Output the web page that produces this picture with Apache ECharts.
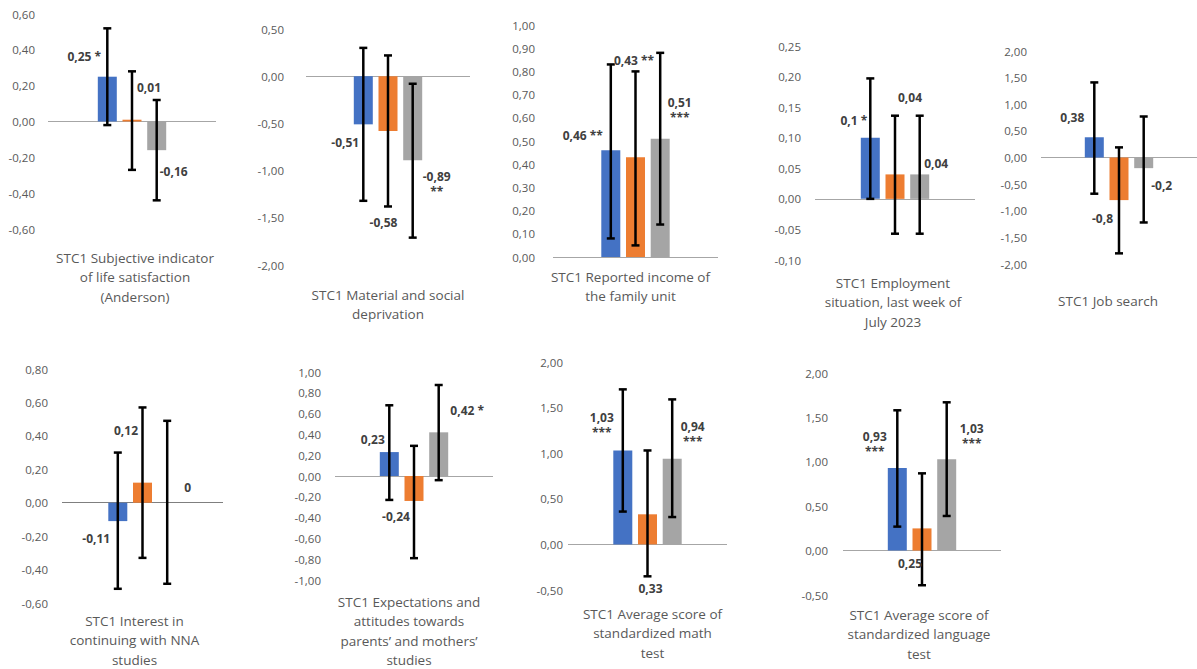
<!DOCTYPE html>
<html><head><meta charset="utf-8">
<script src="https://cdn.jsdelivr.net/npm/echarts@6/dist/echarts.min.js"></script>
<style>html,body{margin:0;padding:0;background:#fff}#c{width:1197px;height:669px}</style>
</head><body><div id="c"></div>
<script>
// ---------- DATA ----------
const categories = [
  'STC1 Subjective indicator\nof life satisfaction\n(Anderson)',
  'STC1 Material and social\ndeprivation',
  'STC1 Reported income of\nthe family unit',
  'STC1 Employment\nsituation, last week of\nJuly 2023',
  'STC1 Job search',
  'STC1 Interest in\ncontinuing with NNA\nstudies',
  'STC1 Expectations and\nattitudes towards\nparents\u2019 and mothers\u2019\nstudies',
  'STC1 Average score of\nstandardized math\ntest',
  'STC1 Average score of\nstandardized language\ntest'
];
const blueValues   = [0.25, -0.51, 0.46, 0.1, 0.38, -0.11, 0.23, 1.03, 0.93];
const orangeValues = [0.01, -0.58, 0.43, 0.04, -0.8, 0.12, -0.24, 0.33, 0.25];
const grayValues   = [-0.16, -0.89, 0.51, 0.04, -0.2, 0, 0.42, 0.94, 1.03];
const blueStars    = ['*', '', '**', '*', '', '', '', '***', '***'];
const orangeStars  = ['', '', '**', '', '', '', '', '', ''];
const grayStars    = ['', '**', '***', '', '', '', '*', '***', '***'];
const blueLow      = [-0.02, -1.32, 0.08, 0.00, -0.68, -0.515, -0.23, 0.36, 0.27];
const blueHigh     = [0.52, 0.30, 0.83, 0.197, 1.41, 0.30, 0.68, 1.70, 1.58];
const orangeLow    = [-0.27, -1.38, 0.05, -0.057, -1.80, -0.33, -0.79, -0.35, -0.39];
const orangeHigh   = [0.28, 0.22, 0.80, 0.136, 0.19, 0.57, 0.29, 1.03, 0.87];
const grayLow      = [-0.44, -1.71, 0.14, -0.057, -1.22, -0.485, -0.04, 0.30, 0.39];
const grayHigh     = [0.12, -0.08, 0.88, 0.136, 0.77, 0.49, 0.875, 1.59, 1.67];
const axisMin      = [-0.6, -2, 0, -0.1, -2, -0.6, -1, -0.5, -0.5];
const axisMax      = [0.6, 0.5, 1, 0.25, 2, 0.8, 1, 2, 2];
const axisStep     = [0.2, 0.5, 0.1, 0.05, 0.5, 0.2, 0.2, 0.5, 0.5];

// ---------- LAYOUT / STYLE ----------
const COLORS = ['#4472C4', '#ED7D31', '#A5A5A5'];
const BAR_W = 19, BAR_GAP = 0.3;
const GRIDS = [[48,14,168,215],[306,29,164,236],[553,25,165,232],[815,46,160,214],[1041,51,156,213],
               [62,369,161,234],[335,372,158,208],[568,362,159,228],[843,373,158,222]];
const Y_MARGIN = [13,22,18,14,14,14,14,5,15];
const X_MARGIN = [19,20,10,13,27,8,12,14,10];
const TITLE_SHIFT = [3,0,-5,-2,-11,-8,-5,5,-3];
const ZERO_COLOR = ['#A6A6A6','#A6A6A6','#A6A6A6','#A6A6A6','#A6A6A6','#7F7F7F','#A6A6A6','#A6A6A6','#A6A6A6'];
// label centre offsets [dx, dy, starsOnNewLine] relative to bar top (per panel: blue, orange, gray)
const LABEL_POS = [
  [[-23,-20,0],[17,-32,0],[17,21,0]],
  [[-18,18,0],[-4.5,92,0],[24,24,1]],
  [[-28,-15,0],[-1.5,-97,0],[19.5,-29,1]],
  [[-16.5,-17,0],[15,-77,0],[16.5,-11,0]],
  [[-22,-20,0],[-16.5,18,0],[18,17,0]],
  [[-21.5,17,0],[-16.5,-52,0],[20.5,-15,0]],
  [[-16.5,-13,0],[-18,16,0],[28.5,-22,0]],
  [[-21,-25,1],[3,74,0],[20.5,-25,1]],
  [[-22.5,-24,1],[-12,35,0],[25,-23.5,1]]
];

const VALS = [blueValues, orangeValues, grayValues];
const STARS = [blueStars, orangeStars, grayStars];
const LOWS = [blueLow, orangeLow, grayLow];
const HIGHS = [blueHigh, orangeHigh, grayHigh];

function fmtVal(v) { return String(v).replace('.', ','); }
function fmtTick(v) { if (Math.abs(v) < 1e-9) v = 0; return v.toFixed(2).replace('.', ','); }

const grid = [], xAxis = [], yAxis = [], series = [];
categories.forEach((cat, p) => {
  const g = GRIDS[p];
  grid.push({ left: g[0], top: g[1], width: g[2], height: g[3], outerBoundsMode: 'none', containLabel: false });
  const sh = TITLE_SHIFT[p];
  xAxis.push({
    type: 'category', gridIndex: p, data: [cat],
    axisLine: { show: false, onZero: false }, axisTick: { show: false },
    axisLabel: {
      interval: 0, margin: X_MARGIN[p], color: '#595959', fontSize: 13.5, lineHeight: 19.5,
      fontFamily: '"Open Sans", sans-serif', align: 'center',
      padding: sh >= 0 ? [0, 0, 0, 2 * sh] : [0, -2 * sh, 0, 0]
    }
  });
  yAxis.push({
    type: 'value', gridIndex: p, min: axisMin[p], max: axisMax[p], interval: axisStep[p],
    axisLine: { show: false }, axisTick: { show: false }, splitLine: { show: false },
    axisLabel: { margin: Y_MARGIN[p], color: '#595959', fontSize: 11.5, fontFamily: '"Open Sans", sans-serif', formatter: fmtTick }
  });
  for (let s = 0; s < 3; s++) {
    const ser = {
      type: 'bar', xAxisIndex: p, yAxisIndex: p, data: [VALS[s][p]],
      barWidth: BAR_W, barGap: (BAR_GAP * 100) + '%',
      itemStyle: { color: COLORS[s] }, silent: true, z: 2
    };
    if (s === 0) {
      ser.markLine = {
        silent: true, symbol: ['none', 'none'], label: { show: false },
        lineStyle: { color: ZERO_COLOR[p], width: 1.2, type: 'solid' },
        data: [{ yAxis: 0 }], z: 1
      };
    }
    series.push(ser);
  }
  const items = [0, 1, 2].map(s => [0, LOWS[s][p], HIGHS[s][p], VALS[s][p]]);
  series.push({
    type: 'custom', xAxisIndex: p, yAxisIndex: p, z: 5, silent: true,
    encode: { x: 0, y: [1, 2] },
    data: items,
    renderItem(params, api) {
      const s = params.dataIndex;
      const step = BAR_W * (1 + BAR_GAP);
      const c = api.value(0);
      const top = api.coord([c, api.value(2)]);
      const bot = api.coord([c, api.value(1)]);
      const vp = api.coord([c, api.value(3)]);
      const x = top[0] + (s - 1) * step;
      const cap = 4;
      const ls = { stroke: '#000', lineWidth: 2.5 };
      const lp = LABEL_POS[p][s];
      const st = STARS[s][p];
      const txt = fmtVal(VALS[s][p]) + (st ? (lp[2] ? '\n' : ' ') + st : '');
      return {
        type: 'group', children: [
          { type: 'line', shape: { x1: x, y1: top[1], x2: x, y2: bot[1] }, style: ls },
          { type: 'line', shape: { x1: x - cap, y1: top[1], x2: x + cap, y2: top[1] }, style: ls },
          { type: 'line', shape: { x1: x - cap, y1: bot[1], x2: x + cap, y2: bot[1] }, style: ls },
          { type: 'text', z2: 10, style: {
              text: txt, x: x + lp[0], y: vp[1] + lp[1], align: 'center', verticalAlign: 'middle',
              fill: '#404040', font: 'bold 12px "Open Sans", sans-serif', lineHeight: 15 } }
        ]
      };
    }
  });
});

const chart = echarts.init(document.getElementById('c'), null, { renderer: 'svg' });
chart.setOption({ animation: false, backgroundColor: '#fff', grid, xAxis, yAxis, series });
</script>
</body></html>
